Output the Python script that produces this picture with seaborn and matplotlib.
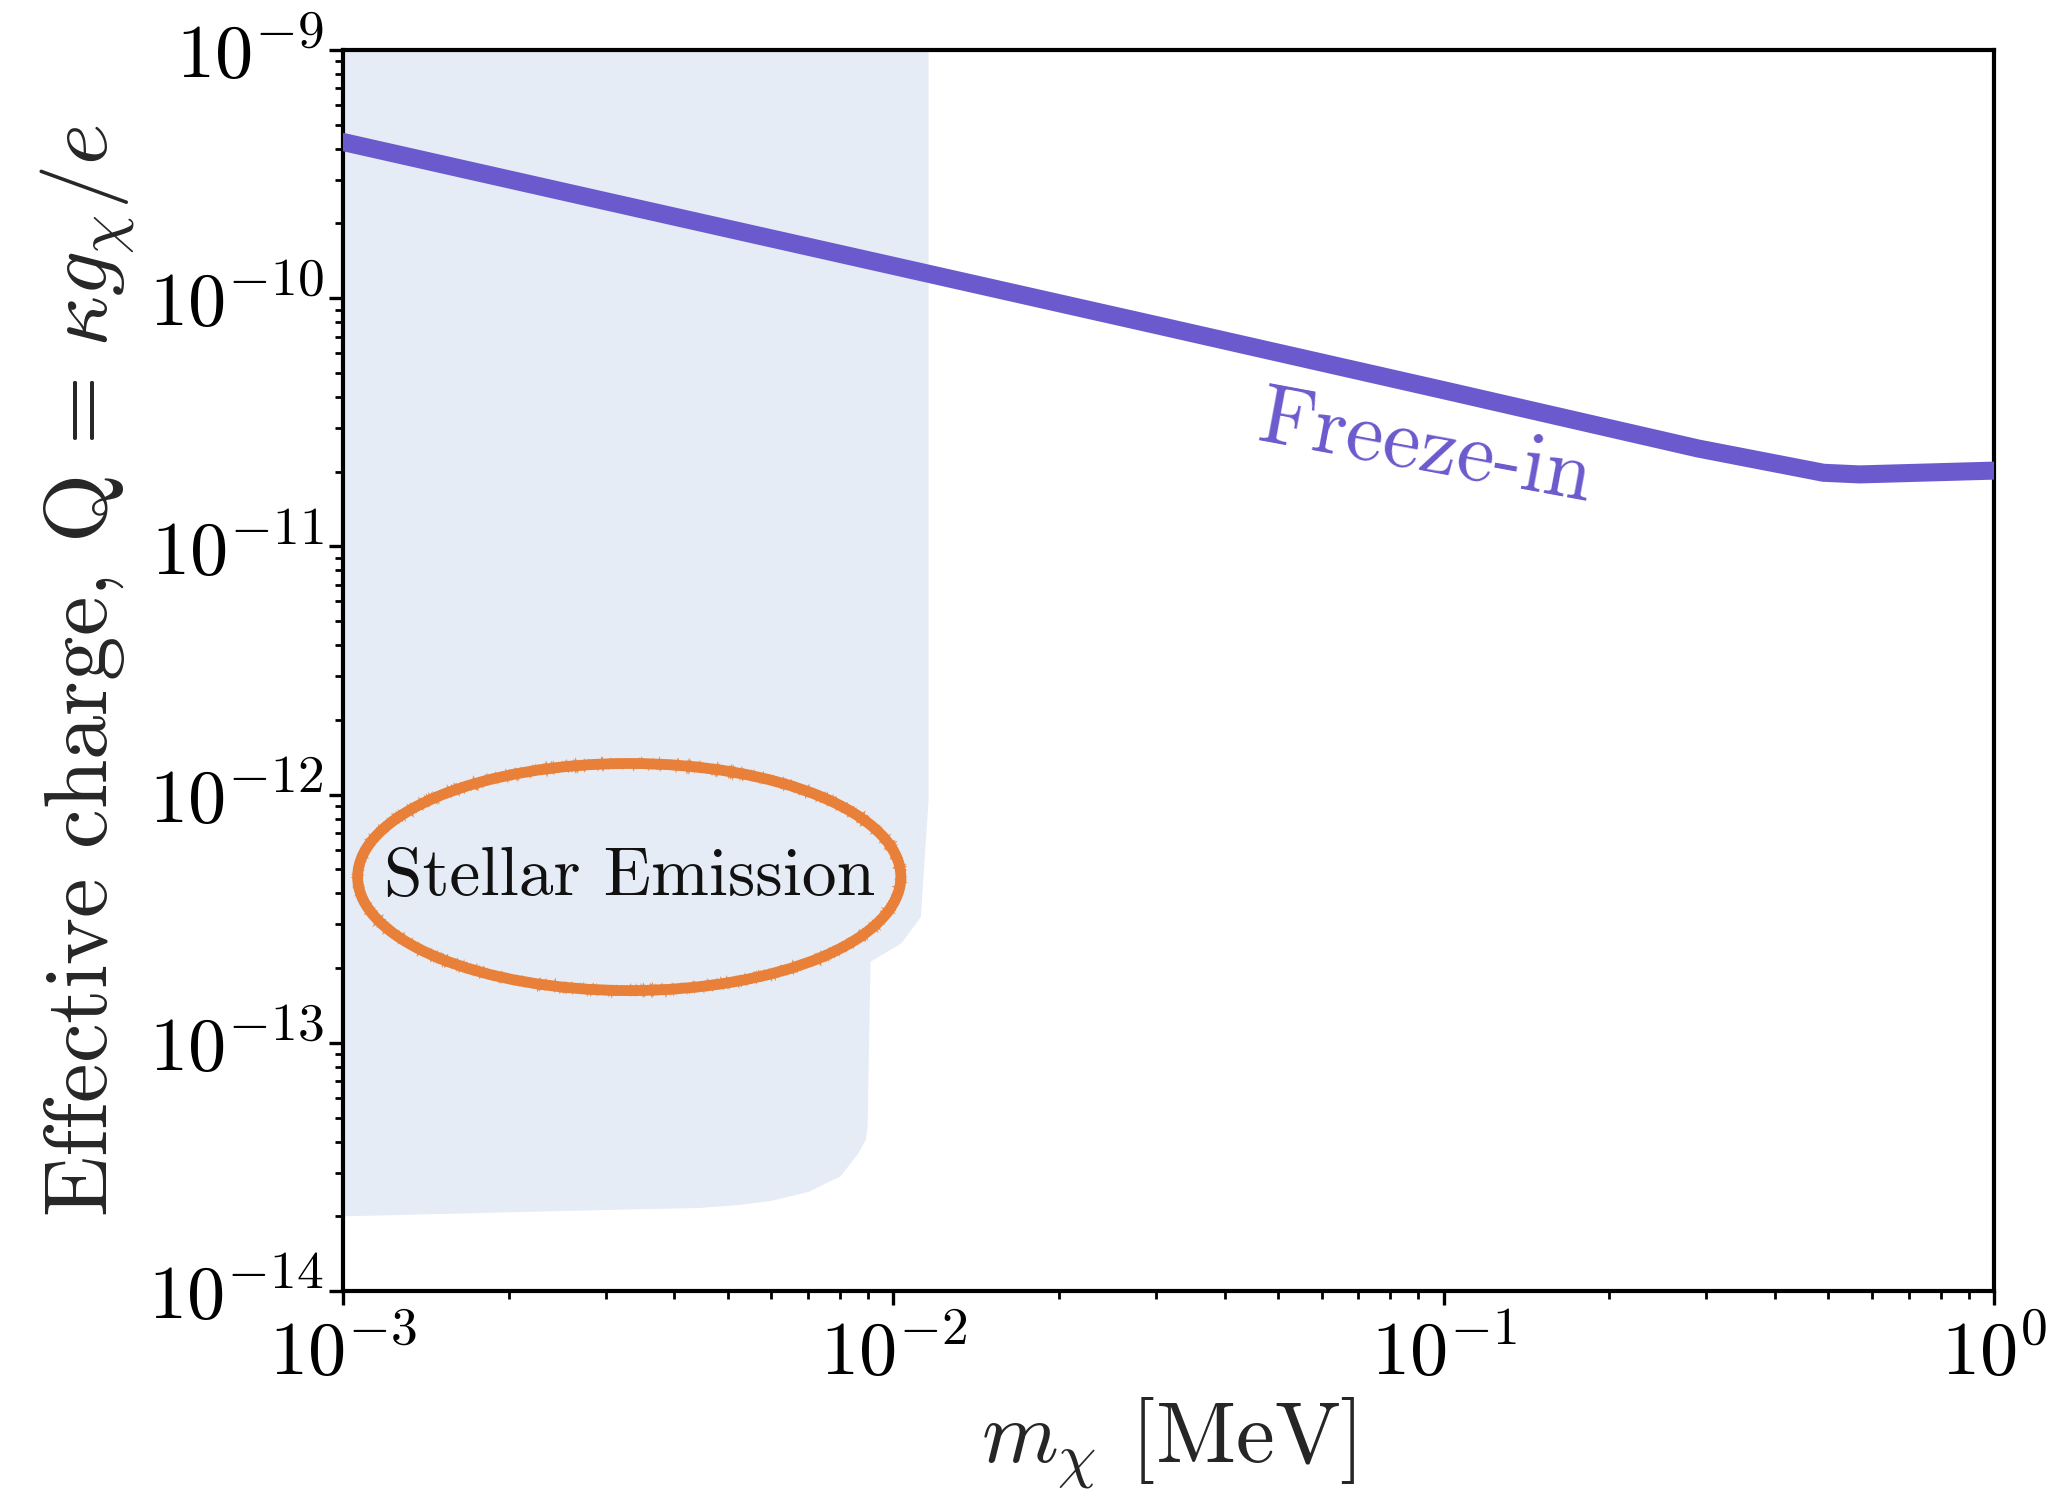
import numpy as np
import pandas as pd
import matplotlib
matplotlib.use("Agg")
import matplotlib.pyplot as plt
import matplotlib.patches as mpatches
import seaborn as sns

# ---- data ----
freeze_m = [1e-3, 3e-3, 1e-2, 3e-2, 0.1, 0.29, 0.49, 0.57, 1.0]
freeze_q = [4.26e-10, 2.46e-10, 1.35e-10, 7.8e-11, 4.26e-11, 2.48e-11, 1.98e-11, 1.95e-11, 2.02e-11]

# excluded (shaded) region boundary
region_m = [1e-3, 0.01159, 0.01159, 0.01122, 0.01035, 0.00909, 0.00898, 0.00891,
            0.00865, 0.00802, 0.00702, 0.00601, 0.00523, 0.00443, 0.00359, 0.00246, 1e-3]
region_q = [1e-9, 1e-9, 9.5e-13, 3.21e-13, 2.52e-13, 2.12e-13, 4.6e-14, 4.06e-14,
            3.6e-14, 2.9e-14, 2.51e-14, 2.31e-14, 2.22e-14, 2.16e-14, 2.14e-14, 2.10e-14, 2.0e-14]

xlim = (1e-3, 1.0)
ylim = (1e-14, 1e-9)

sns.set_theme(style="ticks")
plt.rcParams["font.family"] = ["cmr10", "DejaVu Serif"]
plt.rcParams["mathtext.fontset"] = "cm"
plt.rcParams["axes.formatter.use_mathtext"] = True
plt.rcParams["axes.unicode_minus"] = False

fig = plt.figure(figsize=(2061 / 200, 1510 / 200), dpi=200)
ax = fig.add_axes([0.1664, 0.145, 0.9675 - 0.1664, 0.9669 - 0.145])

ax.fill(region_m, region_q, color="#e5ecf5", lw=0, zorder=1)

df = pd.DataFrame({"m": freeze_m, "Q": freeze_q})
sns.lineplot(data=df, x="m", y="Q", ax=ax, color="#6a5acd", lw=6.5,
             solid_joinstyle="miter", zorder=3, sort=False)

ax.set_xscale("log")
ax.set_yscale("log")
ax.set_xlim(*xlim)
ax.set_ylim(*ylim)

# hand-drawn (crayon-like) ellipse around the label
strokes = [(3.9, None, 1.0), (1.4, (1.8, 1.5, 3), 0.85), (1.3, (2.0, 2.0, 4), 0.8),
           (1.1, (2.2, 1.2, 3), 0.7)]
for lw, sk, al in strokes:
    e = mpatches.Ellipse((0.1734, 0.3336), 0.329, 0.183, transform=ax.transAxes,
                         fill=False, edgecolor="#e8803a", lw=lw, alpha=al, zorder=4)
    if sk is not None:
        e.set_sketch_params(*sk)
    ax.add_patch(e)

ax.text(0.1734, 0.3336, "Stellar Emission", transform=ax.transAxes,
        ha="center", va="center", fontsize=25, color="#111111", zorder=5)

ax.text(0.0927, 2.45e-11, "Freeze-in", ha="center", va="center",
        fontsize=30.5, color="#6a5acd", rotation=-10.5,
        rotation_mode="anchor", zorder=5)

ax.set_xlabel(r"$m_\chi$ [MeV]", fontsize=31.5, labelpad=2)
ax.set_ylabel(r"Effective charge, $\mathrm{Q}\,=\,\kappa g_\chi/e$", fontsize=32, labelpad=4)

for s in ax.spines.values():
    s.set_color("black")
    s.set_linewidth(1.5)
    s.set_visible(True)

ax.tick_params(axis="both", which="major", direction="out", length=5, width=1.2,
               color="black", labelsize=27.5, labelcolor="black")
ax.tick_params(axis="both", which="minor", direction="out", length=3, width=1.0,
               color="black")
ax.tick_params(axis="x", which="major", pad=5)
ax.tick_params(axis="y", which="major", pad=2)
ax.set_facecolor("white")

fig.savefig("out.png", dpi=200, facecolor="white")
